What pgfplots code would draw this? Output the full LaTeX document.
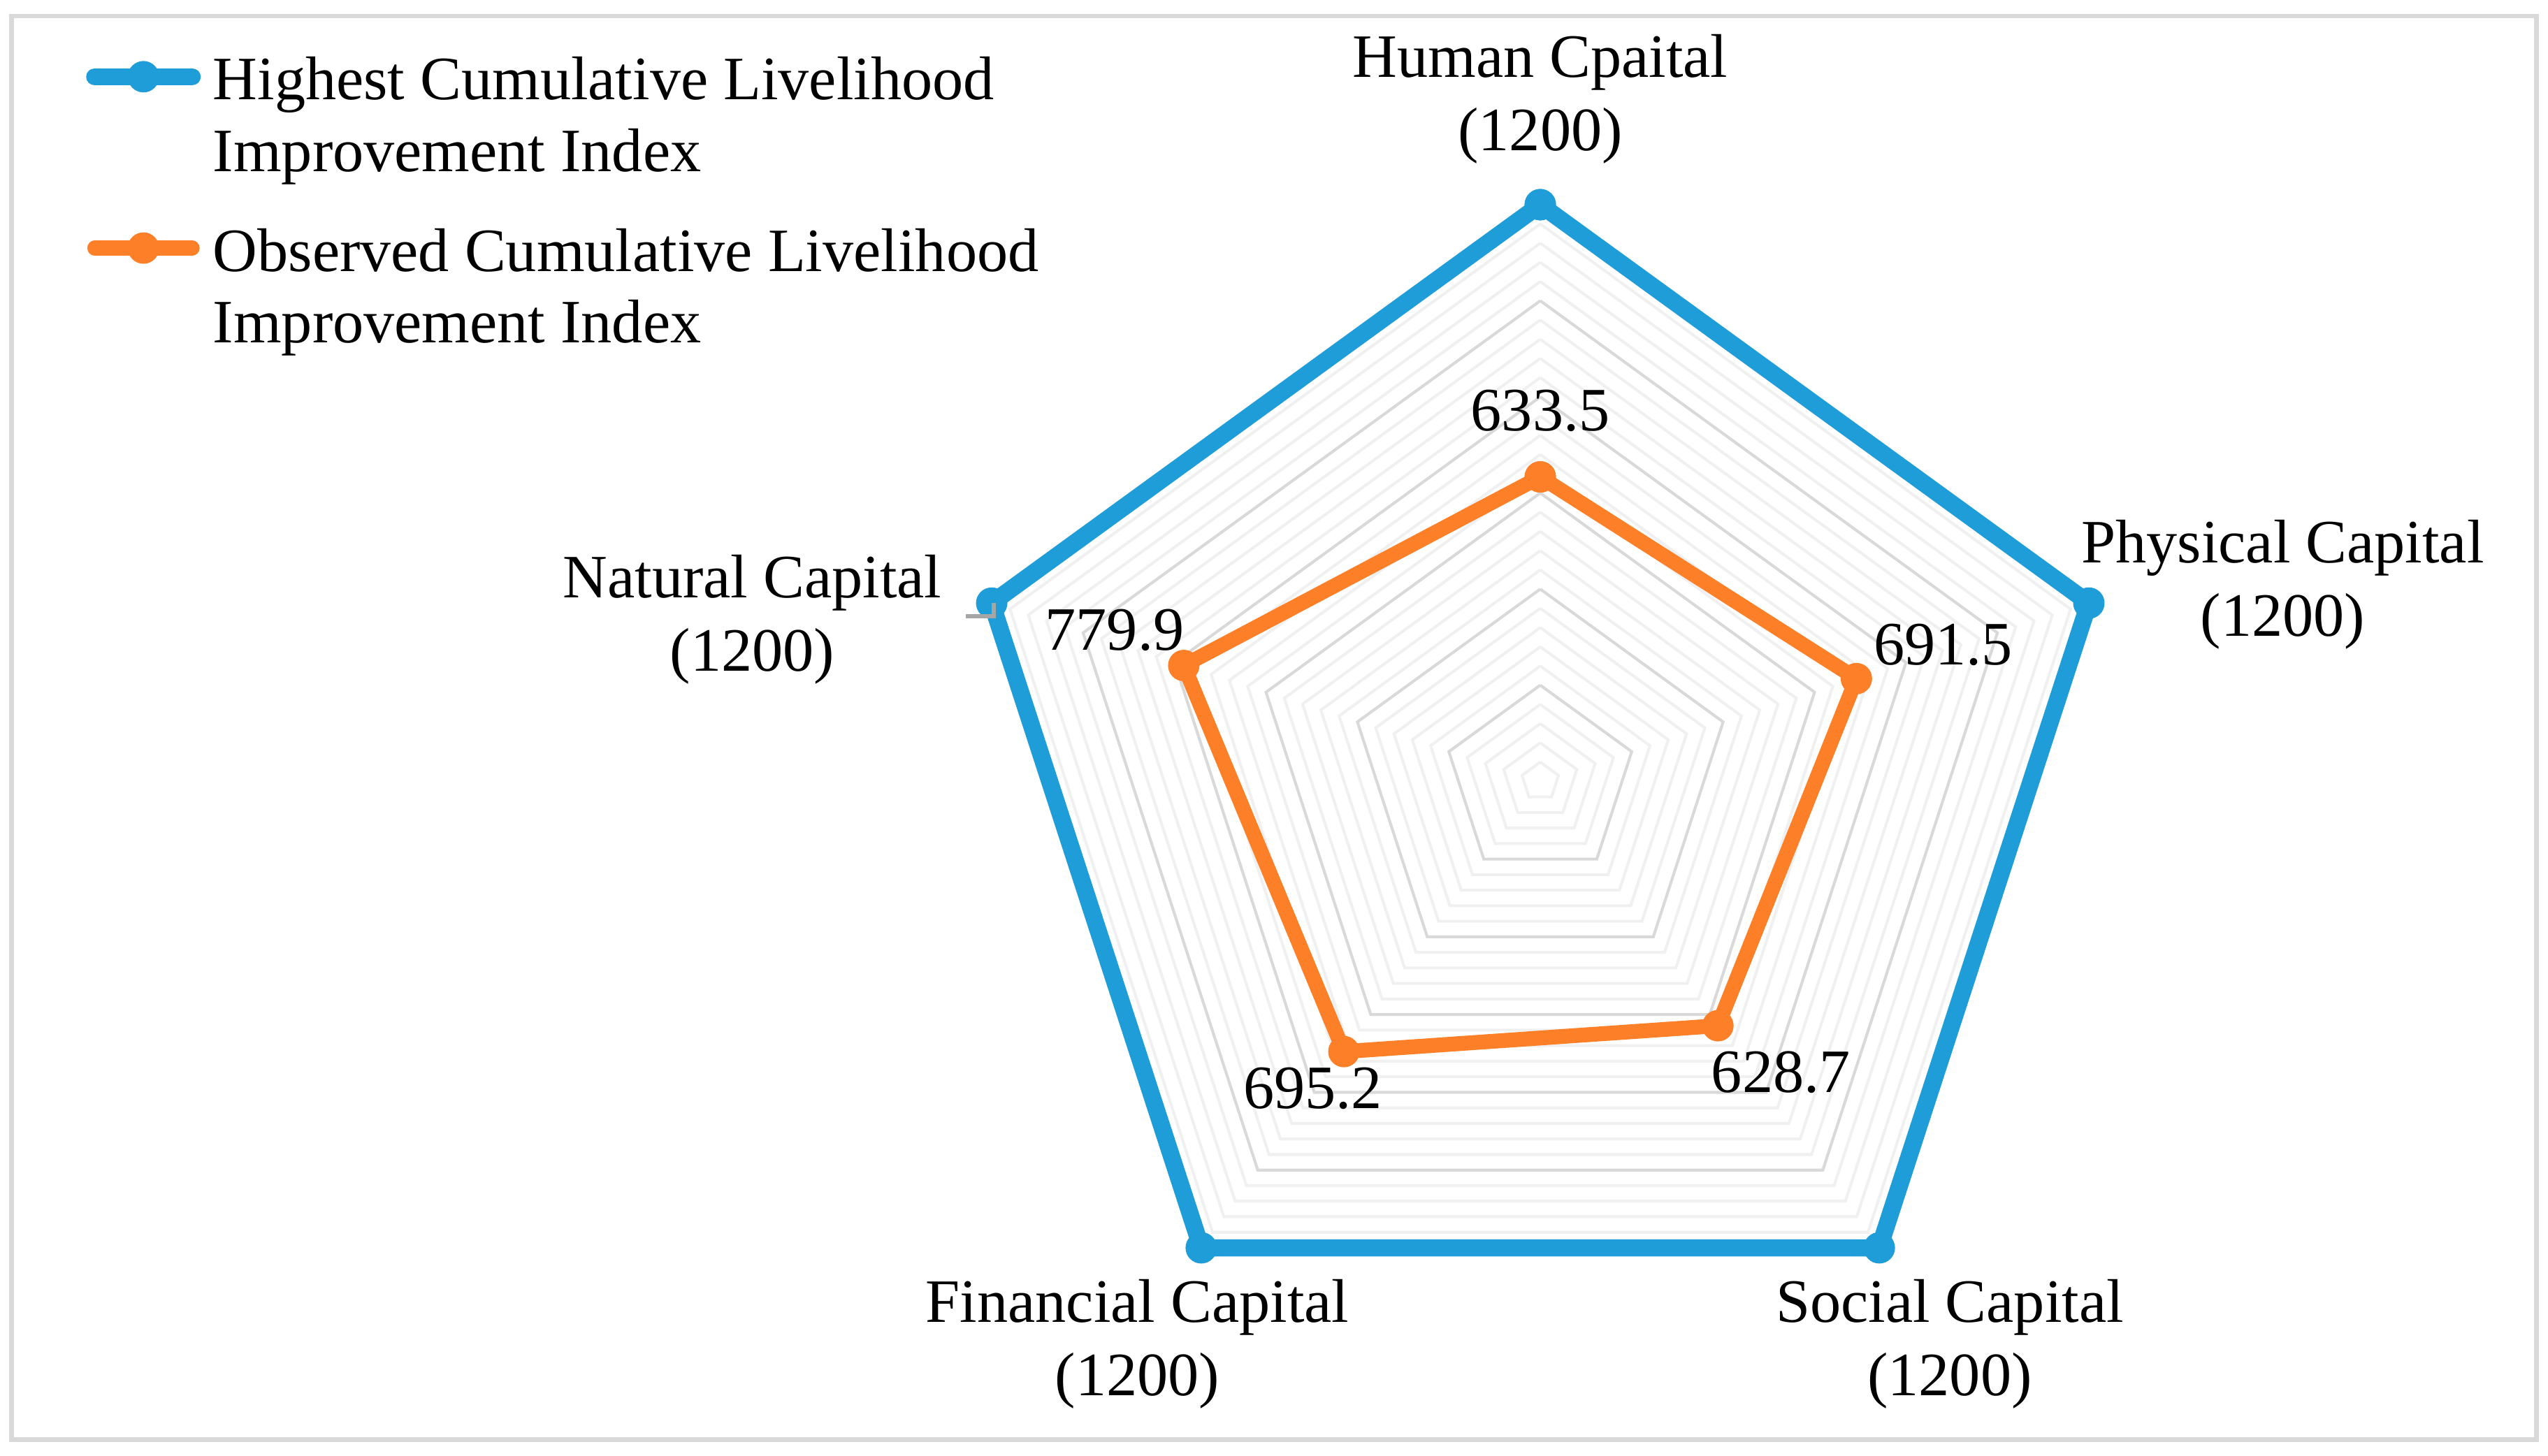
\documentclass[border=0pt]{standalone}
\usepackage{pgfplots}
\pgfplotsset{compat=1.18}
\usepgfplotslibrary{polar}
\usepackage{fontspec}
\setmainfont{Liberation Serif}

\definecolor{hiblue}{RGB}{31,157,216}
\definecolor{obsorange}{RGB}{253,127,40}
\definecolor{majgrid}{RGB}{217,217,217}
\definecolor{mingrid}{RGB}{240,240,240}
\definecolor{leader}{RGB}{166,166,166}

\begin{document}
\fontsize{10.8}{12.8}\selectfont
\begin{tikzpicture}
\begin{polaraxis}[
    width=7.1cm, height=7.1cm, scale only axis,
    xmin=0, xmax=360, ymin=0, ymax=1200,
    hide axis, clip=false,
    legend style={
        at={(axis description cs:-0.7615,1.1355)}, anchor=north west,
        draw=none, fill=none, inner sep=0pt,
        font=\fontsize{10.8}{12.6}\selectfont,
        cells={align=left},
        row sep=5.7pt,
        nodes={inner sep=1.3pt},
        /tikz/every even column/.append style={column sep=0pt},
    },
    legend cell align=left,
    legend image code/.code={%
        \draw[yshift=0.26cm, mark repeat=2, mark phase=2, line cap=round]
        plot coordinates {(0cm,0cm) (0.3cm,0cm) (0.6cm,0cm)};
        \path (0.63cm,0cm);},
]
\coordinate (c) at (axis cs:0,0);

% minor rings, every 40
\pgfplotsinvokeforeach{40,80,120,160,240,280,320,360,440,480,520,560,640,680,720,760,840,880,920,960,1040,1080,1120,1160}{
  \addplot[mingrid, line width=0.5pt, line join=miter, forget plot]
    coordinates {(90,#1) (18,#1) (-54,#1) (-126,#1) (162,#1) (90,#1)};
}
% major rings, every 200
\pgfplotsinvokeforeach{200,400,600,800,1000,1200}{
  \addplot[majgrid, line width=0.5pt, line join=miter, forget plot]
    coordinates {(90,#1) (18,#1) (-54,#1) (-126,#1) (162,#1) (90,#1)};
}

\addplot[hiblue, line width=3pt, line join=round, mark=*, mark size=2.5pt,
    mark options={line width=0.5pt, fill=hiblue, draw=hiblue}]
    coordinates {(90,1200) (18,1200) (-54,1200) (-126,1200) (162,1200) (90,1200)};
\addlegendentry{Highest Cumulative Livelihood\\Improvement Index}

\addplot[obsorange, line width=2.6pt, line join=round, mark=*, mark size=2.5pt,
    mark options={line width=0.5pt, fill=obsorange, draw=obsorange}]
    coordinates {(90,633.5) (18,691.5) (-54,628.7) (-126,695.2) (162,779.9) (90,633.5)};
\addlegendentry{Observed Cumulative Livelihood\\Improvement Index}
\end{polaraxis}

% leader line of the Natural Capital label
\begin{scope}[shift={(c)}]
\draw[leader, line width=0.75pt] (-3.363,1.097) -- (-3.363,1.015) -- (-3.535,1.015);
\end{scope}

% category labels (series names with their values)
\begin{scope}[shift={(c)}, every node/.style={align=center, inner sep=0pt}]
\node at (0,4.2) {Human Cpaital\\(1200)};
\node at (4.57,1.21) {Physical Capital\\(1200)};
\node at (2.52,-3.465) {Social Capital\\(1200)};
\node at (-2.48,-3.465) {Financial Capital\\(1200)};
\node at (-4.85,0.995) {Natural Capital\\(1200)};

\node at (0,2.28) {633.5};
\node at (2.48,0.84) {691.5};
\node at (1.48,-1.79) {628.7};
\node at (-1.40,-1.89) {695.2};
\node at (-2.62,0.93) {779.9};

% chart frame
\draw[majgrid, line width=0.85pt] (-9.407,-4.054) rectangle (6.129,4.711);
\end{scope}

\pgfresetboundingbox
\path[use as bounding box] ([shift={(-9.48,-4.153)}]c) rectangle ([shift={(6.202,4.81)}]c);
\end{tikzpicture}
\end{document}
